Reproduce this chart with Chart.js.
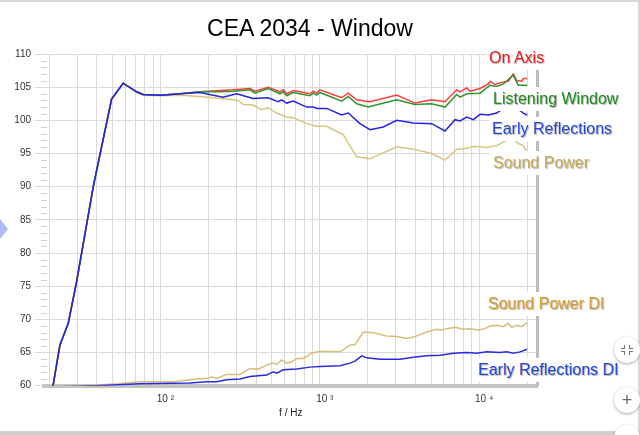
<!DOCTYPE html>
<html>
<head>
<meta charset="utf-8">
<script src="https://cdn.jsdelivr.net/npm/chart.js@4.4.0/dist/chart.umd.min.js"></script>
<style>
  body { margin: 0; background: #fff; font-family: "Liberation Sans", Arial, sans-serif; }
  #wrap { position: relative; width: 640px; height: 435px; overflow: hidden; background: #fff; }
  #chart { position: absolute; left: 0; top: 0; }
  #title { position: absolute; left: 0; width: 620px; top: 15px; line-height: 26px; text-align: center; font-size: 23px; color: #000; }
  .lbl { position: absolute; font-size: 16px; line-height: 20px; padding: 2px 3px; background: #fff; white-space: nowrap; text-shadow: 1px 1px 1px rgba(0,0,0,0.3); }
  .edge { position: absolute; background: #d8d8d8; }
  .arrow { position: absolute; left: 0; top: 219px; width: 0; height: 0; border-left: 8px solid #aebaf5; border-top: 10px solid transparent; border-bottom: 10px solid transparent; }
  .btn { position: absolute; left: 614px; width: 26px; height: 26px; border-radius: 50%; background: #fff; box-shadow: 0 1px 3px rgba(0,0,0,0.35); color: #666; font-size: 18px; line-height: 26px; text-align: center; }
  .btn span { position: absolute; width: 3px; height: 3px; border-color: #777; border-style: solid; }
</style>
</head>
<body>
<div id="wrap">
  <canvas id="chart" width="640" height="435"></canvas>
  <div id="title">CEA 2034 - Window</div>
  <div class="lbl" style="left:486px; top:46px; color:#f01818">On Axis</div>
  <div class="lbl" style="left:490px; top:87px; color:#1d8a1d">Listening Window</div>
  <div class="lbl" style="left:489px; top:117px; color:#2545d8">Early Reflections</div>
  <div class="lbl" style="left:490px; top:151px; color:#c9ab56">Sound Power</div>
  <div class="lbl" style="left:485px; top:292px; color:#d39b2c">Sound Power DI</div>
  <div class="lbl" style="left:475px; top:358px; color:#2545d8">Early Reflections DI</div>
  <div class="edge" style="left:0; top:0; width:640px; height:2px"></div>
  <div class="edge" style="left:638px; top:0; width:2px; height:435px"></div>
  <div class="edge" style="left:0; top:431px; width:640px; height:4px; background:#cfcfcf"></div>
  <div class="arrow"></div>
  <div class="btn" style="top:337px">
    <span style="left:7px; top:8px; border-width:0 1.5px 1.5px 0"></span>
    <span style="left:15px; top:8px; border-width:0 0 1.5px 1.5px"></span>
    <span style="left:7px; top:14px; border-width:1.5px 1.5px 0 0"></span>
    <span style="left:15px; top:14px; border-width:1.5px 0 0 1.5px"></span>
  </div>
  <div class="btn" style="top:387px">+</div>
  <div class="btn" style="top:425px"></div>
</div>
<script>
// ======= Data (frequency in Hz, level in dB) =======
const onAxisFreq = [20, 21.2, 23.4, 26.4, 29.8, 37.9, 49.4, 58.4, 71, 78, 100, 133, 177, 236, 286, 365, 392, 475, 563, 590, 620, 682, 868, 910, 957, 1003, 1372, 1510, 1705, 2066, 3040, 3960, 5040, 6110, 7230, 7590, 8360, 8770, 10140, 11430, 11700, 12590, 14200, 15250, 16400, 17200, 18500, 18930, 20000];
const onAxisDb = [57.5, 60, 66.1, 69.4, 75.7, 90, 103.2, 105.6, 104.3, 103.9, 103.8, 104.0, 104.3, 104.5, 104.6, 104.8, 104.4, 105.0, 104.3, 104.6, 104.0, 104.5, 104.0, 104.4, 104.1, 104.6, 103.4, 104.1, 103.1, 102.8, 103.8, 102.6, 103.1, 102.8, 104.6, 104.3, 104.9, 104.4, 104.8, 105.5, 105.9, 105.4, 105.8, 105.9, 107.0, 106.0, 105.9, 106.3, 106.3];

const lwFreq = [20, 21.2, 23.4, 26.4, 29.8, 37.9, 49.4, 58.4, 71, 78, 100, 133, 177, 236, 286, 365, 392, 475, 563, 590, 620, 682, 868, 910, 957, 1003, 1372, 1510, 1705, 2015, 3040, 3960, 5040, 6110, 7230, 7590, 8360, 10140, 11700, 12900, 14200, 16400, 17600, 20000];
const lwDb = [57.5, 60, 66.1, 69.4, 75.7, 90, 103.2, 105.6, 104.3, 103.9, 103.8, 104.0, 104.3, 104.3, 104.4, 104.6, 104.1, 104.8, 104.0, 104.3, 103.7, 104.2, 103.7, 104.1, 103.8, 104.2, 102.9, 103.6, 102.5, 102.0, 103.1, 102.4, 102.5, 102.0, 103.9, 103.5, 104.0, 104.1, 105.3, 105.1, 105.5, 106.8, 105.3, 105.3];

const erFreq = [20, 21.2, 23.4, 26.4, 29.8, 37.9, 49.4, 58.4, 71, 78, 100, 133, 177, 247, 301, 381, 475, 547, 577, 620, 682, 828, 910, 957, 1105, 1372, 1510, 1788, 2066, 2505, 3040, 3865, 5040, 6110, 7060, 7590, 8360, 9200, 10140, 11430, 12900, 14550, 16800, 18070, 18930, 20000];
const erDb = [57.5, 60, 66.1, 69.4, 75.7, 90, 103.2, 105.6, 104.3, 103.9, 103.8, 104.0, 104.2, 103.5, 104.0, 103.3, 103.4, 102.8, 103.1, 102.6, 102.9, 102.0, 102.0, 101.8, 101.8, 100.8, 101.1, 99.5, 98.6, 99.0, 100.0, 99.6, 99.5, 98.4, 100.1, 99.9, 100.5, 100.1, 100.9, 100.8, 101.1, 102.0, 101.6, 101.5, 101.1, 100.8];

const spFreq = [20, 21.2, 23.4, 26.4, 29.8, 37.9, 49.4, 58.4, 71, 78, 100, 133, 177, 236, 286, 308, 331, 381, 432, 475, 536, 620, 682, 828, 957, 1105, 1405, 1705, 2066, 3040, 3960, 5040, 6110, 7230, 8360, 9430, 11160, 12900, 14890, 16030, 17600, 18930, 20000];
const spDb = [57.5, 60, 66.1, 69.4, 75.7, 90, 103.2, 105.6, 104.2, 103.8, 103.7, 103.8, 103.6, 103.3, 103.1, 103.0, 102.4, 102.3, 101.6, 101.9, 101.1, 100.5, 100.4, 99.5, 99.1, 99.1, 97.8, 94.5, 94.2, 96.0, 95.6, 95.0, 94.0, 95.6, 95.8, 96.1, 95.9, 96.2, 97.0, 97.5, 96.5, 96.2, 95.2];

const spDiFreq = [20, 40, 55, 74, 120, 169, 195, 210, 225, 260, 316, 365, 411, 464, 511, 536, 577, 620, 666, 716, 788, 828, 889, 1003, 1339, 1548, 1664, 1876, 2167, 2630, 3040, 3513, 3960, 4690, 5420, 5825, 6265, 7060, 7960, 8770, 9890, 10890, 11700, 12900, 14200, 15250, 16030, 17200, 18500, 20000];
const spDiDb = [59.8, 60.1, 60.3, 60.6, 60.6, 61.0, 61.1, 61.3, 61.1, 61.7, 61.7, 62.6, 62.5, 63.1, 63.4, 63.2, 63.9, 63.4, 63.6, 64.1, 64.1, 64.4, 64.9, 65.2, 65.1, 66.1, 66.2, 68.1, 68.0, 67.5, 67.4, 67.1, 67.4, 68.1, 68.5, 68.4, 68.6, 68.8, 68.5, 68.6, 68.4, 68.6, 69.0, 69.1, 68.9, 69.4, 68.8, 69.1, 68.9, 69.5];

const erDiFreq = [20, 40, 74, 153, 195, 225, 260, 316, 365, 464, 511, 536, 590, 716, 868, 1003, 1339, 1548, 1664, 1833, 1969, 2387, 3187, 3865, 4690, 5685, 6890, 8360, 9660, 11160, 13520, 14890, 16400, 18070, 20000];
const erDiDb = [59.8, 60.0, 60.3, 60.4, 60.6, 60.6, 60.9, 61.0, 61.4, 61.6, 62.1, 61.9, 62.4, 62.5, 62.8, 62.9, 63.0, 63.4, 63.7, 64.5, 64.2, 64.0, 64.0, 64.3, 64.5, 64.6, 64.9, 65.0, 64.9, 65.1, 65.0, 65.1, 64.9, 65.1, 65.5];

// ======= Axis ticks =======
const gridFreqs = [20, 30, 40, 50, 60, 70, 80, 90, 100, 200, 300, 400, 500, 600, 700, 800, 900, 1000, 2000, 3000, 4000, 5000, 6000, 7000, 8000, 9000, 10000, 20000];
const decadeLabels = { 100: "10 \u00b2", 1000: "10 \u00b3", 10000: "10 \u2074" };
const yTicks = [60, 65, 70, 75, 80, 85, 90, 95, 100, 105, 110];

const FONT = "'Liberation Sans', Arial, sans-serif";

function pts(f, v) {
  return f.map((x, i) => ({ x: x, y: v[i] }));
}

function line(data, color) {
  return { data: data, borderColor: color, borderWidth: 1.5, pointRadius: 0, fill: false, tension: 0 };
}

// short 1 dB marks left of the plot
const minorTicks = {
  id: "minorTicks",
  afterDraw(chart) {
    const ctx = chart.ctx;
    const y = chart.scales.y;
    const left = chart.chartArea.left;
    ctx.save();
    ctx.strokeStyle = "#d0d0d0";
    ctx.lineWidth = 1;
    for (let v = 61; v < 110; v++) {
      if (v % 5 === 0) continue;
      const py = Math.round(y.getPixelForValue(v)) + 0.5;
      ctx.beginPath();
      ctx.moveTo(left - 3, py);
      ctx.lineTo(left + 3, py);
      ctx.stroke();
    }
    ctx.restore();
  }
};

const chart = new Chart(document.getElementById("chart"), {
  type: "line",
  data: {
    datasets: [
      line(pts(erFreq, erDb), "#2424e6"),
      line(pts(lwFreq, lwDb), "#2e962e"),
      line(pts(onAxisFreq, onAxisDb), "#ff3b3b"),
      line(pts(spFreq, spDb), "#d9c483"),
      line(pts(erDiFreq, erDiDb), "#2a2ae0"),
      line(pts(spDiFreq, spDiDb), "#d5bd7a")
    ]
  },
  options: {
    responsive: false,
    animation: false,
    devicePixelRatio: 1,
    layout: { padding: { top: 54, right: 102.5, bottom: 0, left: 0 } },
    plugins: { legend: { display: false }, tooltip: { enabled: false }, title: { display: false } },
    scales: {
      x: {
        type: "logarithmic",
        min: 18.6,
        max: 23250,
        afterBuildTicks: s => { s.ticks = gridFreqs.map(v => ({ value: v })); },
        afterFit: s => { s.height = 49.3; },
        ticks: {
          autoSkip: false, maxRotation: 0, labelOffset: 5, padding: 8,
          color: "#333", font: { family: FONT, size: 10 },
          callback: v => decadeLabels[v] || ""
        },
        grid: { color: "#dadada", drawTicks: false },
        border: { color: "#c4c4c4", width: 4 },
        title: { display: true, text: "f / Hz", color: "#222", font: { family: FONT, size: 10 }, padding: { top: 0, bottom: 16 } }
      },
      y: {
        min: 60,
        max: 110,
        afterBuildTicks: s => { s.ticks = yTicks.map(v => ({ value: v })); },
        afterFit: s => { s.width = 44; },
        ticks: { color: "#333", padding: 4, font: { family: FONT, size: 10 } },
        grid: { color: "#dadada", tickLength: 9, tickColor: "#dadada" },
        border: { display: false }
      },
      yRight: {
        position: "right",
        min: 60,
        max: 110,
        afterFit: s => { s.width = 0; },
        ticks: { display: false },
        grid: { drawOnChartArea: false, drawTicks: false },
        border: { color: "#bdbdbd", width: 3 }
      }
    }
  },
  plugins: [minorTicks]
});
</script>
</body>
</html>
